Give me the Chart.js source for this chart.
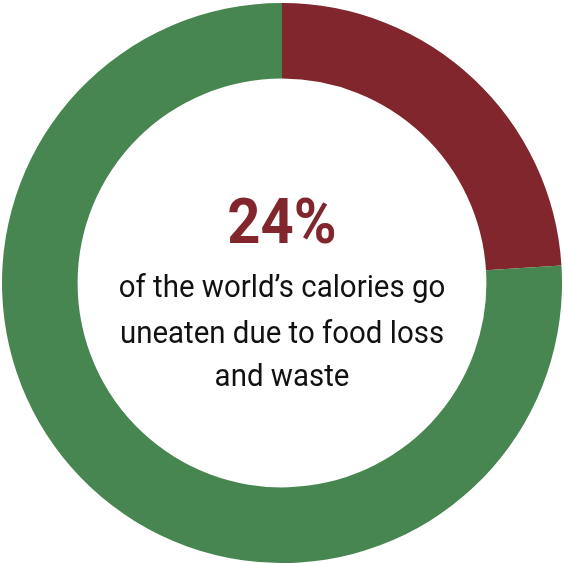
<!DOCTYPE html>
<html>
<head>
<meta charset="utf-8">
<script src="https://cdn.jsdelivr.net/npm/chart.js@4"></script>
<style>
  html, body { margin: 0; padding: 0; background: #fff; }
  #wrap { width: 564px; height: 563px; }
</style>
</head>
<body>
<div id="wrap"><canvas id="donut"></canvas></div>
<script>
// ===== data =====
const categories = ["Lost or wasted", "Eaten"];
const shares = [24, 76];
const colors = ["#80262c", "#478650"];
const headline = "24%";
const caption = ["of the world\u2019s calories go", "uneaten due to food loss", "and waste"];

// center text, drawn condensed with a horizontal scale
const centerText = {
  id: "centerText",
  afterDraw(chart) {
    const arc = chart.getDatasetMeta(0).data[0];
    if (!arc) return;
    const cx = arc.x, cy = arc.y;
    const c = chart.ctx;
    c.save();
    c.textAlign = "center";
    c.textBaseline = "alphabetic";

    c.save();
    c.translate(cx, cy - 40);
    c.scale(0.92, 1);
    c.font = "bold 63px Roboto";
    c.fillStyle = colors[0];
    c.fillText(headline, 0, 0);
    c.restore();

    const ys = [14, 60, 103];
    caption.forEach((line, i) => {
      c.save();
      c.translate(cx, cy + ys[i]);
      c.scale(0.92, 1);
      c.font = "32px Roboto";
      c.fillStyle = "#111";
      c.fillText(line, 0, 0);
      c.restore();
    });
    c.restore();
  }
};

new Chart(document.getElementById("donut"), {
  type: "doughnut",
  data: {
    labels: categories,
    datasets: [{
      data: shares,
      backgroundColor: colors,
      borderWidth: 0
    }]
  },
  options: {
    responsive: true,
    maintainAspectRatio: false,
    animation: false,
    cutout: "73%",
    layout: { padding: { top: 3 } },
    plugins: {
      legend: { display: false },
      tooltip: { enabled: false }
    }
  },
  plugins: [centerText]
});
</script>
</body>
</html>
